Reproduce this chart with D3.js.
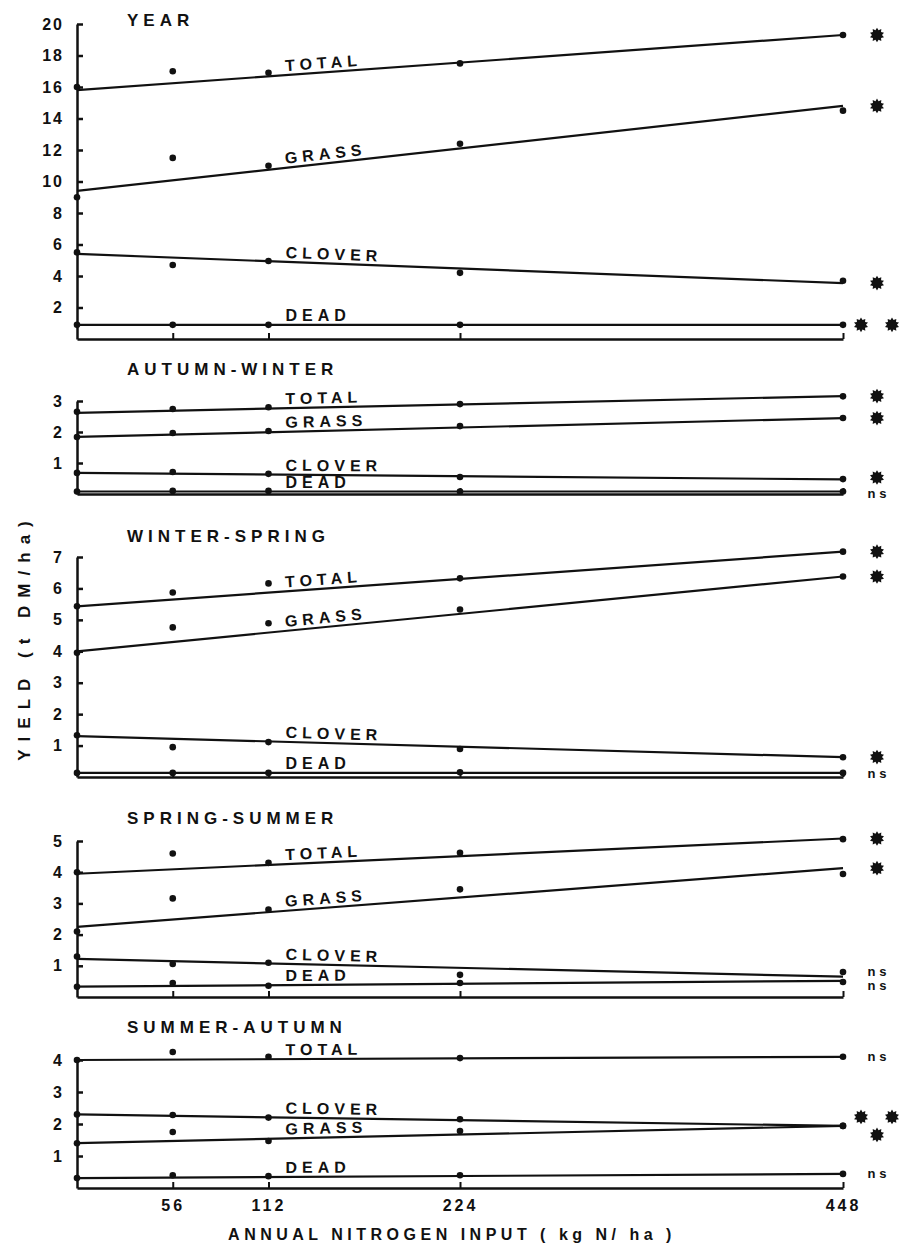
<!DOCTYPE html>
<html>
<head>
<meta charset="utf-8">
<script src="https://cdn.jsdelivr.net/npm/d3@7"></script>
<style>
  body { margin: 0; background: #fff; }
  text { font-family: "Liberation Sans", Arial, sans-serif; font-weight: bold; fill: #111; }
</style>
</head>
<body>
<svg id="chart" width="900" height="1249"></svg>
<script>
// nitrogen levels (kg N/ha)
const nitrogen = [0, 56, 112, 224, 448];
const xTickLabels = ["56", "112", "224", "448"];

const panelTitles = ["YEAR", "AUTUMN-WINTER", "WINTER-SPRING", "SPRING-SUMMER", "SUMMER-AUTUMN"];
const panelMax = [20, 3, 7, 5, 4];
const panelStep = [2, 1, 1, 1, 1];

// series order inside every panel
const seriesNames = ["TOTAL", "GRASS", "CLOVER", "DEAD"];

// YEAR
const yearPoints = [
  [16.0, 17.0, 16.9, 17.5, 19.3],
  [9.0, 11.5, 11.0, 12.4, 14.5],
  [5.5, 4.7, 4.95, 4.2, 3.7],
  [0.9, 0.9, 0.9, 0.9, 0.9]
];
const yearFit = [[15.8, 19.3], [9.4, 14.8], [5.4, 3.55], [0.9, 0.9]];
const yearSig = ["*", "*", "*", "**"];

// AUTUMN - WINTER
const awPoints = [
  [2.65, 2.74, 2.8, 2.9, 3.15],
  [1.84, 1.97, 2.03, 2.19, 2.45],
  [0.68, 0.71, 0.65, 0.55, 0.48],
  [0.08, 0.1, 0.1, 0.08, 0.08]
];
const awFit = [[2.62, 3.16], [1.84, 2.45], [0.68, 0.47], [0.08, 0.08]];
const awSig = ["*", "*", "*", "ns"];

// WINTER - SPRING
const wsPoints = [
  [5.43, 5.87, 6.16, 6.32, 7.17],
  [3.95, 4.76, 4.89, 5.33, 6.38],
  [1.33, 0.95, 1.11, 0.89, 0.63],
  [0.13, 0.13, 0.13, 0.15, 0.13]
];
const wsFit = [[5.43, 7.17], [4.0, 6.38], [1.3, 0.63], [0.13, 0.13]];
const wsSig = ["*", "*", "*", "ns"];

// SPRING - SUMMER
const ssPoints = [
  [4.0, 4.6, 4.3, 4.62, 5.06],
  [2.1, 3.16, 2.8, 3.45, 3.94],
  [1.3, 1.06, 1.1, 0.71, 0.8],
  [0.33, 0.45, 0.36, 0.45, 0.48]
];
const ssFit = [[3.95, 5.08], [2.25, 4.13], [1.22, 0.65], [0.33, 0.52]];
const ssSig = ["*", "*", "ns", "ns"];

// SUMMER - AUTUMN
const saPoints = [
  [4.0, 4.25, 4.1, 4.06, 4.1],
  [1.4, 1.75, 1.47, 1.78, 1.94],
  [2.3, 2.28, 2.2, 2.15, 1.94],
  [0.31, 0.4, 0.37, 0.4, 0.44]
];
const saFit = [[4.0, 4.1], [1.4, 1.94], [2.3, 1.94], [0.31, 0.44]];
const saSig = ["ns", "*", "**", "ns"];

const allPoints = [yearPoints, awPoints, wsPoints, ssPoints, saPoints];
const allFits = [yearFit, awFit, wsFit, ssFit, saFit];
const allSig = [yearSig, awSig, wsSig, ssSig, saSig];

// layout (pixel positions of each panel's top tick, zero line and title)
const panelTop = [24, 401, 557, 841, 1060];
const panelBottom = [339, 494, 777, 997, 1188];
const titleY = [26, 375, 542, 824, 1033];

const svg = d3.select('#chart');

const xScale = d3.scaleLinear()
  .domain([0, 448])
  .range([77, 843]);

// spiky burst used for significance stars
const burst = {
  draw(context, size) {
    const R = Math.sqrt(size) * 0.6, r = R * 0.68, n = 10;
    for (let i = 0; i < 2 * n; i++) {
      const a = Math.PI * i / n - Math.PI / 2;
      const rr = i % 2 ? r : R;
      const px = rr * Math.cos(a), py = rr * Math.sin(a);
      if (i) context.lineTo(px, py); else context.moveTo(px, py);
    }
    context.closePath();
  }
};

const styleAxisText = (sel, size, spacing) => sel
  .attr('font-size', size)
  .attr('font-family', '"Liberation Sans", Arial, sans-serif')
  .attr('font-weight', 'bold')
  .attr('letter-spacing', spacing)
  .attr('fill', '#111');

panelTitles.forEach((title, p) => {
  const g = svg.append('g');
  const yScale = d3.scaleLinear()
    .domain([0, panelMax[p]])
    .range([panelBottom[p], panelTop[p]]);

  g.append('text')
    .attr('x', 127)
    .attr('y', titleY[p])
    .attr('font-size', 17)
    .attr('letter-spacing', 5)
    .text(title);

  // y axis, ticks inward
  const ticks = d3.range(panelStep[p], panelMax[p] + 0.001, panelStep[p]);
  const yAxis = g.append('g')
    .attr('transform', `translate(${xScale(0)},0)`)
    .call(d3.axisLeft(yScale)
      .tickValues(ticks)
      .tickSizeInner(-6)
      .tickSizeOuter(0)
      .tickPadding(13)
      .tickFormat(d3.format('d')));
  yAxis.select('.domain').attr('stroke-width', 2.5).attr('stroke', '#111');
  yAxis.selectAll('.tick line').attr('stroke-width', 2.5).attr('stroke', '#111');
  styleAxisText(yAxis.selectAll('text'), 16, 2);

  // bottom frame, ticks upward
  const xAxis = g.append('g')
    .attr('transform', `translate(0,${yScale(0)})`)
    .call(d3.axisBottom(xScale)
      .tickValues(nitrogen.slice(1))
      .tickSizeInner(-6)
      .tickSizeOuter(0)
      .tickPadding(12)
      .tickFormat((d, i) => p === panelTitles.length - 1 ? xTickLabels[i] : ''));
  xAxis.select('.domain').attr('stroke-width', 2.5).attr('stroke', '#111');
  xAxis.selectAll('.tick line').attr('stroke-width', 2).attr('stroke', '#111');
  styleAxisText(xAxis.selectAll('text'), 16, 3);

  const points = allPoints[p];
  const fits = allFits[p];
  const sigs = allSig[p];

  const line = d3.line()
    .x(d => xScale(d[0]))
    .y(d => yScale(d[1]));

  // significance marker positions, pushed apart where they collide
  const markers = seriesNames.map((name, s) => ({
    sig: sigs[s],
    y: yScale(fits[s][1]),
    y0: yScale(fits[s][0]),
    h: sigs[s] === 'ns' ? 12 : 16
  }));
  const order = markers.slice().sort((a, b) => (a.y - b.y) || (a.y0 - b.y0));
  for (let k = 1; k < order.length; k++) {
    const a = order[k - 1], b = order[k];
    const need = (a.h + b.h) / 2 + 2;
    if (b.y - a.y < need) {
      const mid = (a.y + b.y) / 2;
      a.y = mid - need / 2;
      b.y = mid + need / 2;
    }
  }

  seriesNames.forEach((name, s) => {
    const fit = fits[s];
    g.append('path')
      .attr('d', line([[0, fit[0]], [448, fit[1]]]))
      .attr('fill', 'none')
      .attr('stroke', '#111')
      .attr('stroke-width', 2.2);

    g.selectAll(null)
      .data(points[s])
      .enter()
      .append('circle')
      .attr('cx', (d, i) => xScale(nitrogen[i]))
      .attr('cy', d => yScale(d))
      .attr('r', 3.3)
      .attr('fill', '#111');

    // label laid along the fitted line
    const lx = xScale(112) + 17;
    const t = xScale.invert(lx) / 448;
    const ly = yScale(fit[0] + (fit[1] - fit[0]) * t) - 4;
    const angle = Math.atan2(yScale(fit[1]) - yScale(fit[0]), xScale(448) - xScale(0)) * 180 / Math.PI;
    g.append('text')
      .attr('transform', `translate(${lx},${ly}) rotate(${angle})`)
      .attr('font-size', 16)
      .attr('letter-spacing', 5)
      .text(name);

    const m = markers[s];
    if (m.sig === 'ns') {
      g.append('text')
        .attr('x', 879)
        .attr('y', m.y)
        .attr('dy', '0.35em')
        .attr('text-anchor', 'middle')
        .attr('font-size', 13)
        .attr('letter-spacing', 4)
        .text('ns');
    } else {
      const xs = m.sig === '**' ? [861, 892] : [877];
      xs.forEach(cx => {
        g.append('path')
          .attr('d', d3.symbol().type(burst).size(150)())
          .attr('transform', `translate(${cx},${m.y})`)
          .attr('fill', '#111');
      });
    }
  });
});

// axis titles
svg.append('text')
  .attr('transform', 'translate(30,637) rotate(-90)')
  .attr('text-anchor', 'middle')
  .attr('font-size', 17)
  .attr('letter-spacing', 8)
  .text('YIELD  (t DM/ha)');

svg.append('text')
  .attr('x', 452)
  .attr('y', 1240)
  .attr('text-anchor', 'middle')
  .attr('font-size', 16)
  .attr('letter-spacing', 4.5)
  .text('ANNUAL  NITROGEN  INPUT ( kg N/ ha )');
</script>
</body>
</html>
